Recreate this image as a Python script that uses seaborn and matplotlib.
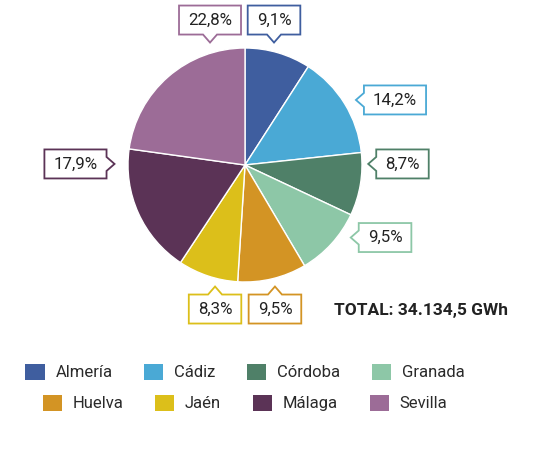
import matplotlib
matplotlib.use("Agg")
import matplotlib.pyplot as plt
from matplotlib.patches import Patch, Polygon
import seaborn as sns

# datos
provincias = ["Almería", "Cádiz", "Córdoba", "Granada", "Huelva", "Jaén", "Málaga", "Sevilla"]
porcentajes = [9.1, 14.2, 8.7, 9.5, 9.5, 8.3, 17.9, 22.8]
colores = ["#3F5E9F", "#4AA9D5", "#4F8068", "#8DC7A7", "#D39424", "#DCBF1A", "#5B3356", "#9C6C97"]
total_gwh = "34.134,5"

# posición de las etiquetas (en radios del pastel) y lado del puntero
pos_etiquetas = [(0.248, 1.239), (1.282, 0.556), (1.346, 0.009), (1.197, -0.620),
                 (0.256, -1.231), (-0.256, -1.231), (-1.449, 0.009), (-0.299, 1.239)]
lado_puntero = ["bottom", "left", "left", "left", "top", "top", "right", "bottom"]

sns.set_theme(style="white")
plt.rcParams["font.family"] = ["Roboto", "DejaVu Sans"]

W, H = 553, 463
R = 117            # radio del pastel en px
cx, cy = 245, 165  # centro del pastel en px (desde arriba)

fig = plt.figure(figsize=(W / 100, H / 100), dpi=100)
ax = fig.add_axes([0, 0, 1, 1])
ax.pie(porcentajes, colors=sns.color_palette(colores), startangle=90, counterclock=False,
       radius=1, wedgeprops=dict(edgecolor="white", linewidth=1))
ax.set_xlim(-cx / R, (W - cx) / R)
ax.set_ylim(-(H - cy) / R, cy / R)
ax.set_aspect("equal")
ax.axis("off")

# etiquetas con caja y puntero
textos = []
for val, (x, y) in zip(porcentajes, pos_etiquetas):
    t = ax.text(x, y, f"{val:.1f}%".replace(".", ","), ha="center", va="center",
                fontsize=12.2, color="#222222", zorder=5)
    textos.append(t)

fig.canvas.draw()
rend = fig.canvas.get_renderer()
px = 1.0 / R
for t, col, lado in zip(textos, colores, lado_puntero):
    bb = t.get_window_extent(rend)
    x, y = t.get_position()
    hw = (bb.width + 18) / 2 * px
    hh = 14.5 * px
    d = 8 * px
    n = 7 * px
    x0, x1, y0, y1 = x - hw, x + hw, y - hh, y + hh
    if lado == "bottom":
        pts = [(x0, y0), (x - n, y0), (x, y0 - d), (x + n, y0), (x1, y0), (x1, y1), (x0, y1)]
    elif lado == "top":
        pts = [(x0, y0), (x1, y0), (x1, y1), (x + n, y1), (x, y1 + d), (x - n, y1), (x0, y1)]
    elif lado == "left":
        pts = [(x0, y0), (x1, y0), (x1, y1), (x0, y1), (x0, y + n), (x0 - d, y), (x0, y - n)]
    else:
        pts = [(x0, y0), (x1, y0), (x1, y - n), (x1 + d, y), (x1, y + n), (x1, y1), (x0, y1)]
    ax.add_patch(Polygon(pts, closed=True, facecolor="white", edgecolor=col,
                         linewidth=1.3, zorder=4, joinstyle="miter"))

# leyenda en dos filas
handles = [Patch(facecolor=c, edgecolor="none", label=p) for p, c in zip(provincias, colores)]
kw = dict(frameon=False, ncol=4, handlelength=1.15, handleheight=1.15,
          handletextpad=0.65, columnspacing=1.9, borderpad=0, borderaxespad=0,
          labelcolor="#2a2a2a", loc="center", prop=dict(size=12))
fig.legend(handles=handles[:4], bbox_to_anchor=(245 / W, 1 - 372 / H), **kw)
fig.legend(handles=handles[4:], bbox_to_anchor=(245 / W, 1 - 403 / H), **kw)

fig.text(421 / W, 1 - 310 / H, f"TOTAL: {total_gwh} GWh", ha="center", va="center",
         fontsize=12.5, fontweight="bold", color="#222222")

fig.savefig("out.png", dpi=100)
